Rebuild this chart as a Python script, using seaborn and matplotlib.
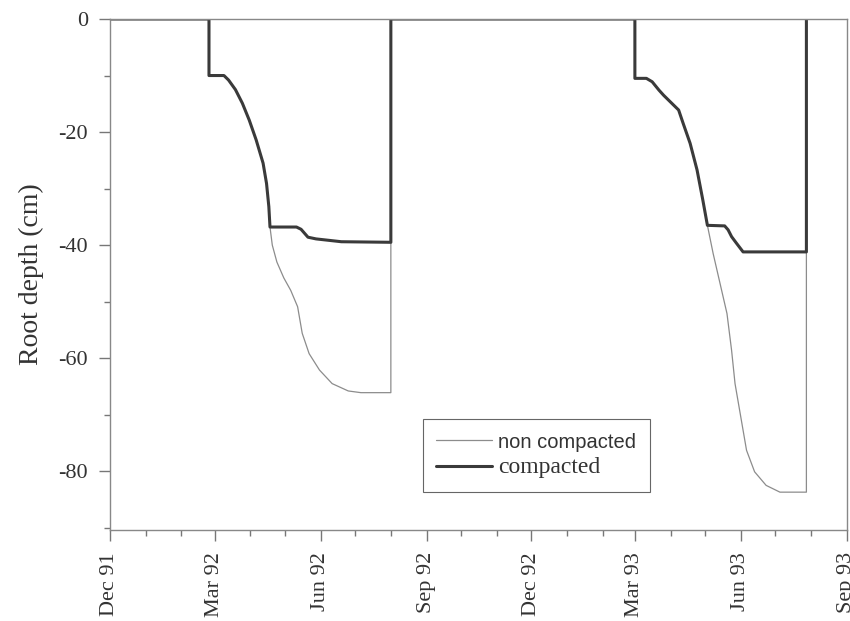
import pandas as pd
import numpy as np
import matplotlib
matplotlib.use("Agg")
import matplotlib.pyplot as plt
import matplotlib.dates as mdates
from matplotlib.ticker import MultipleLocator
import seaborn as sns

# Root depth readings (cm, negative = below surface)
noncomp_dates = [
    "1991-12-01", "1992-02-25", "1992-02-25", "1992-03-09", "1992-03-13", "1992-03-19",
    "1992-03-25", "1992-03-31", "1992-04-06", "1992-04-12", "1992-04-15", "1992-04-17",
    "1992-04-18", "1992-04-20", "1992-04-24", "1992-04-30", "1992-05-06", "1992-05-12",
    "1992-05-16", "1992-05-22", "1992-05-31", "1992-06-11", "1992-06-25", "1992-07-06",
    "1992-08-01", "1992-08-01", "1993-03-01", "1993-03-01", "1993-03-11", "1993-03-16",
    "1993-03-22", "1993-03-26", "1993-04-02", "1993-04-08", "1993-04-12", "1993-04-18",
    "1993-04-24", "1993-04-29", "1993-05-03", "1993-05-08", "1993-05-14", "1993-05-20",
    "1993-05-24", "1993-05-27", "1993-06-01", "1993-06-06", "1993-06-13", "1993-06-23",
    "1993-07-05", "1993-07-28", "1993-07-28",
]
noncomp_depth = [
    0, 0, -10.0, -10.0, -10.8, -12.5,
    -14.9, -17.9, -21.4, -25.5, -29.1, -33.2,
    -36.8, -40.0, -43.0, -45.8, -48.0, -50.9,
    -55.6, -59.2, -62.1, -64.5, -65.8, -66.1,
    -66.1, 0, 0, -10.5, -10.5, -11.1,
    -12.6, -13.5, -14.9, -16.1, -18.5, -22.0,
    -26.7, -32.0, -36.5, -41.5, -46.8, -52.1,
    -58.6, -64.5, -70.4, -76.3, -80.1, -82.5,
    -83.7, -83.7, 0,
]

comp_dates = [
    "1991-12-01", "1992-02-25", "1992-02-25", "1992-03-09", "1992-03-13", "1992-03-19",
    "1992-03-25", "1992-03-31", "1992-04-06", "1992-04-12", "1992-04-15", "1992-04-17",
    "1992-04-18", "1992-05-11", "1992-05-15", "1992-05-18", "1992-05-21", "1992-05-28",
    "1992-06-19", "1992-08-01", "1992-08-01", "1993-03-01", "1993-03-01", "1993-03-11",
    "1993-03-16", "1993-03-22", "1993-03-26", "1993-04-02", "1993-04-08", "1993-04-12",
    "1993-04-18", "1993-04-24", "1993-04-29", "1993-05-03", "1993-05-18", "1993-05-21",
    "1993-05-24", "1993-05-28", "1993-06-03", "1993-07-28", "1993-07-28",
]
comp_depth = [
    0, 0, -10.0, -10.0, -10.8, -12.5,
    -14.9, -17.9, -21.4, -25.5, -29.1, -33.2,
    -36.8, -36.8, -37.2, -37.9, -38.6, -38.9,
    -39.4, -39.5, 0, 0, -10.5, -10.5,
    -11.1, -12.6, -13.5, -14.9, -16.1, -18.5,
    -22.0, -26.7, -32.0, -36.5, -36.6, -37.3,
    -38.5, -39.6, -41.2, -41.2, 0,
]

series_names = ["non compacted", "compacted"]

df = pd.concat([
    pd.DataFrame({"date": pd.to_datetime(noncomp_dates), "depth": noncomp_depth,
                  "series": series_names[0]}),
    pd.DataFrame({"date": pd.to_datetime(comp_dates), "depth": comp_depth,
                  "series": series_names[1]}),
])

sns.set_style("ticks")
plt.rcParams["font.family"] = ["Liberation Serif", "DejaVu Serif"]
plt.rcParams["axes.unicode_minus"] = False

fig = plt.figure(figsize=(8.5, 6.21), dpi=100)
ax = fig.add_axes([0.1294, 0.1465, 0.8667, 0.8229])

sns.lineplot(data=df[df.series == series_names[0]], x="date", y="depth",
             estimator=None, sort=False, color="#8c8c8c", linewidth=0.9,
             label=series_names[0], ax=ax)
sns.lineplot(data=df[df.series == series_names[1]], x="date", y="depth",
             estimator=None, sort=False, color="#3a3a3a", linewidth=2.2,
             label=series_names[1], ax=ax)

ax.set_xlim(pd.Timestamp("1991-12-01"), pd.Timestamp("1993-09-01"))
ax.set_ylim(-90.4, 0)

ax.xaxis.set_major_locator(mdates.MonthLocator(bymonth=[3, 6, 9, 12]))
ax.xaxis.set_minor_locator(mdates.MonthLocator())
ax.xaxis.set_major_formatter(mdates.DateFormatter("%b %y"))
ax.yaxis.set_major_locator(MultipleLocator(20))
ax.yaxis.set_minor_locator(MultipleLocator(10))

ax.tick_params(axis="both", which="major", direction="out", length=8, width=1,
               color="#777777", labelcolor="#333333", labelsize=16, pad=8)
ax.tick_params(axis="both", which="minor", direction="out", length=4, width=1,
               color="#777777")
plt.setp(ax.get_xticklabels(), rotation=90)

ax.set_xlabel("")
ax.set_ylabel("Root depth (cm)", fontsize=20, color="#333333", labelpad=10)

for side in ["left", "right", "top", "bottom"]:
    ax.spines[side].set_visible(True)
    ax.spines[side].set_color("#888888")
    ax.spines[side].set_linewidth(1)

leg = ax.legend(loc="lower left", bbox_to_anchor=(0.4245, 0.075), borderaxespad=0,
                frameon=True, fancybox=False, edgecolor="#666666", framealpha=1,
                handlelength=2.5, handletextpad=0.3, fontsize=16, borderpad=0.6,
                labelspacing=0.25)
leg.get_frame().set_linewidth(0.8)
leg.get_texts()[0].set_fontfamily("Liberation Sans")
leg.get_texts()[0].set_fontsize(14.5)
leg.get_texts()[1].set_fontsize(17)
for t in leg.get_texts():
    t.set_color("#333333")

fig.savefig("out.png", dpi=100)
